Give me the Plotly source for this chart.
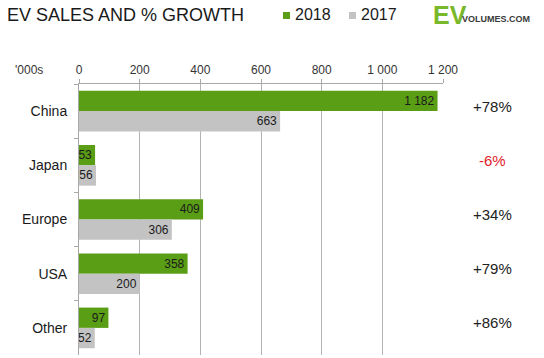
import plotly.graph_objects as go

regions = ["China", "Japan", "Europe", "USA", "Other"]
sales_2018 = [1182, 53, 409, 358, 97]
sales_2017 = [663, 56, 306, 200, 52]
growth_labels = ["+78%", "-6%", "+34%", "+79%", "+86%"]
growth_colors = ["#222222", "#e0202a", "#222222", "#222222", "#222222"]
tick_values = [0, 200, 400, 600, 800, 1000, 1200]

W, H = 544, 358
L, R, T, B = 79, 443, 84, 355
FONT = "Liberation Sans, Arial, sans-serif"
GREEN = "#5a9e16"
GREY = "#c3c3c3"


def px(x):
    return (x - L) / (R - L)


def py(y):
    return (B - y) / (B - T)


fig = go.Figure()
fig.add_trace(go.Bar(
    y=regions, x=sales_2018, orientation="h", name="2018",
    marker=dict(color=GREEN, line=dict(width=0)),
    texttemplate="%{x:,d}", textposition="inside", insidetextanchor="end",
    textfont=dict(size=12, color="#1a1a1a", family=FONT),
))
fig.add_trace(go.Bar(
    y=regions, x=sales_2017, orientation="h", name="2017",
    marker=dict(color=GREY, line=dict(width=0)),
    texttemplate="%{x:,d}", textposition="inside", insidetextanchor="end",
    textfont=dict(size=12, color="#1a1a1a", family=FONT),
))

annotations = []
for reg, lab, col in zip(regions, growth_labels, growth_colors):
    annotations.append(dict(
        x=px(492), xref="paper", y=reg, yref="y", text=lab, showarrow=False,
        xanchor="center", yanchor="middle", yshift=5,
        font=dict(size=15, color=col, family=FONT),
    ))

# title
annotations.append(dict(
    x=px(5), y=py(15), xref="paper", yref="paper", text="EV SALES AND % GROWTH",
    showarrow=False, xanchor="left", yanchor="middle",
    font=dict(size=18, color="#1a1a1a", family=FONT),
))
# legend texts
annotations.append(dict(
    x=px(293), y=py(15), xref="paper", yref="paper", text="2018",
    showarrow=False, xanchor="left", yanchor="middle",
    font=dict(size=16, color="#1a1a1a", family=FONT),
))
annotations.append(dict(
    x=px(359), y=py(15), xref="paper", yref="paper", text="2017",
    showarrow=False, xanchor="left", yanchor="middle",
    font=dict(size=16, color="#1a1a1a", family=FONT),
))
# logo
annotations.append(dict(
    x=px(431), y=py(15), xref="paper", yref="paper", text="<b>EV</b>",
    showarrow=False, xanchor="left", yanchor="middle",
    font=dict(size=25, color="#78b82a", family=FONT),
))
annotations.append(dict(
    x=px(460), y=py(19), xref="paper", yref="paper", text="<b>VOLUMES.COM</b>",
    showarrow=False, xanchor="left", yanchor="middle",
    font=dict(size=9, color="#3a3a3a", family=FONT),
))
# units
annotations.append(dict(
    x=px(29), y=py(70), xref="paper", yref="paper", text="'000s",
    showarrow=False, xanchor="center", yanchor="middle",
    font=dict(size=12, color="#333333", family=FONT),
))

shapes = [
    dict(type="rect", xref="paper", yref="paper", x0=px(283), x1=px(290),
         y0=py(19), y1=py(12), fillcolor=GREEN, line=dict(width=0)),
    dict(type="rect", xref="paper", yref="paper", x0=px(349), x1=px(356),
         y0=py(19), y1=py(12), fillcolor=GREY, line=dict(width=0)),
]

fig.update_layout(
    width=W, height=H, autosize=False,
    margin=dict(l=L, r=W - R, t=T, b=H - B, pad=0),
    paper_bgcolor="white", plot_bgcolor="white",
    barmode="group", bargap=0.25, bargroupgap=0,
    showlegend=False,
    separators=". ",
    uniformtext=dict(minsize=12, mode="show"),
    annotations=annotations, shapes=shapes,
    font=dict(family=FONT, color="#333333"),
    hovermode=False,
)
fig.update_xaxes(
    side="top", range=[0, 1200], tickvals=tick_values, tickformat=",d",
    showgrid=True, gridcolor="#b4b4b4", gridwidth=1,
    showline=True, linecolor="#a8a8a8", linewidth=1,
    ticks="outside", ticklen=4, tickcolor="#a8a8a8",
    tickfont=dict(size=12, color="#333333", family=FONT),
    zeroline=False, mirror=False,
)
fig.update_yaxes(
    autorange="reversed", tickson="boundaries",
    showline=True, linecolor="#a8a8a8", linewidth=1,
    ticks="outside", ticklen=4, tickcolor="#a8a8a8",
    tickfont=dict(size=14, color="#1a1a1a", family=FONT),
    showgrid=False, zeroline=False, ticklabelstandoff=8,
)

fig.write_html(
    "out.html",
    config={"displayModeBar": False},
    post_script="document.body.style.margin='0';document.body.style.overflow='hidden';",
)
